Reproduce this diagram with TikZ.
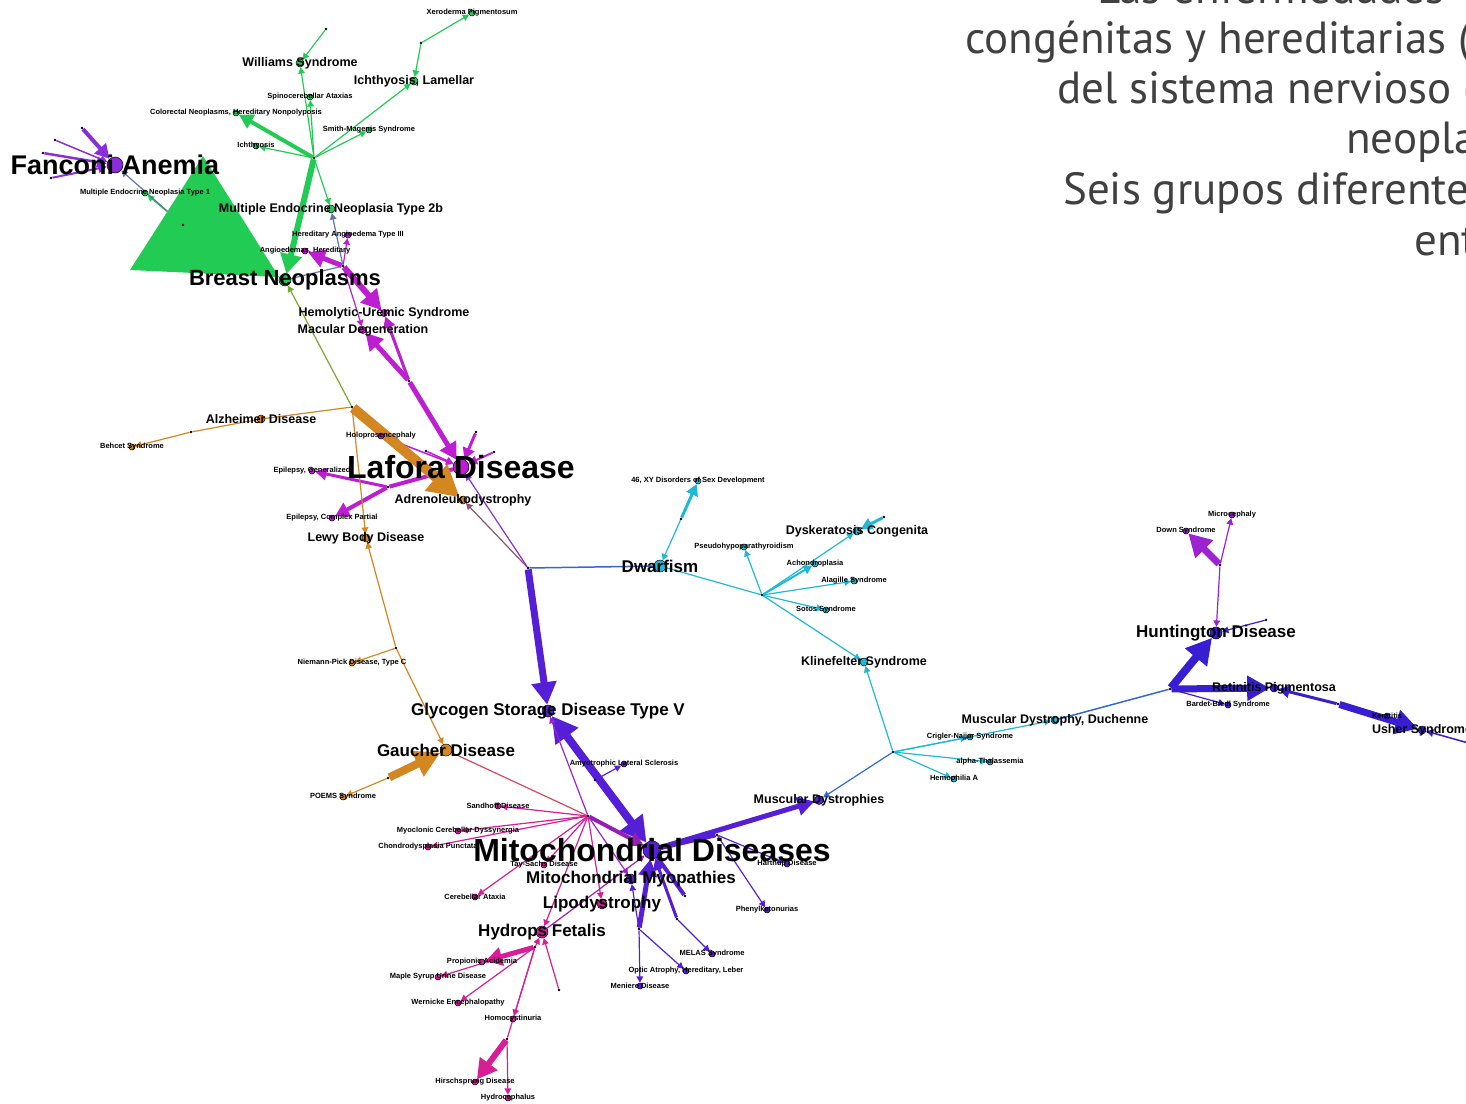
\documentclass[tikz,border=0pt]{standalone}
\usepackage{fontspec}
\setmainfont{Liberation Sans}
\newfontfamily\slidefont{PT Sans}
\usepackage{tikz}
\usetikzlibrary{arrows.meta}
\definecolor{genegreen}{RGB}{34,204,84}
\definecolor{fanconipurple}{RGB}{140,45,220}
\definecolor{laforapink}{RGB}{190,30,210}
\definecolor{alzorange}{RGB}{212,134,32}
\definecolor{dwarfcyan}{RGB}{30,185,215}
\definecolor{mitoviolet}{RGB}{85,30,215}
\definecolor{linkblue}{RGB}{50,105,215}
\definecolor{mitopink}{RGB}{215,30,150}
\definecolor{linkred}{RGB}{220,70,90}
\definecolor{linkslate}{RGB}{95,120,160}
\definecolor{linkolive}{RGB}{120,170,50}
\definecolor{linkbrown}{RGB}{140,85,110}
\definecolor{retinablue}{RGB}{55,30,210}
\definecolor{downpurple}{RGB}{155,35,210}
\definecolor{textgray}{RGB}{64,64,64}
\pgfdeclarelayer{edges}
\pgfsetlayers{edges,main}
\tikzset{
  dis/.style={circle, draw=black, line width=0.5pt, inner sep=0pt, minimum size=6pt, fill=#1},
  hub/.style={circle, fill=black, inner sep=0pt, minimum size=2.6pt},
  link/.style={line width=#1, -{Triangle[length=3pt 2.8, width=3pt 3]}},
  link/.default=1.2pt,
  wire/.style={line width=#1},
  wire/.default=1.2pt,
  linkboth/.style={line width=#1, {Triangle[length=3pt 2.8, width=3pt 3]}-{Triangle[length=3pt 2.8, width=3pt 3]}},
  hugetext/.style={font=\fontsize{32}{32}\selectfont\bfseries, inner sep=0pt},
  fancytext/.style={font=\fontsize{27}{27}\selectfont\bfseries, inner sep=0pt},
  bigtext/.style={font=\fontsize{22}{22}\selectfont\bfseries, inner sep=0pt},
  midtext/.style={font=\fontsize{17}{17}\selectfont\bfseries, inner sep=0pt},
  smalltext/.style={font=\fontsize{12.5}{12.5}\selectfont\bfseries, inner sep=0pt},
  tinytext/.style={font=\fontsize{7.5}{7.5}\selectfont\bfseries, inner sep=0pt},
  slidetext/.style={font=\slidefont\fontsize{45}{50}\selectfont, text=textgray, anchor=base west, inner sep=0pt}
}

\begin{document}
\begin{tikzpicture}[x=1pt, y=-1pt]
    \useasboundingbox (0,0) rectangle (1466,1103);
    \clip (0,0) rectangle (1466,1103);

    % slide text
    \node[slidetext] (line1) at (1097,3) {Las enfermedades};
    \node[slidetext] (line2) at (965,53) {congénitas y hereditarias (};
    \node[slidetext] (line3) at (1057,103) {del sistema nervioso (};
    \node[slidetext] (line4) at (1346,153) {neopla};
    \node[slidetext] (line5) at (1063,204) {Seis grupos diferente};
    \node[slidetext] (line6) at (1414,255) {ent};

    % green cluster
    \node[hub] (gb1) at (421,43) {};
    \node[hub] (gb2) at (326,29) {};
    \node[hub] (g0) at (314,158) {};
    \node[hub] (tri) at (183,225) {};
    \node[dis=genegreen, label={[tinytext]center:Xeroderma Pigmentosum}] (xero) at (472,13) {};
    \node[dis=genegreen, minimum size=8pt, label={[smalltext]center:{Ichthyosis, Lamellar}}] (lamellar) at (414,81) {};
    \node[dis=genegreen, minimum size=8pt, label={[smalltext]center:Williams Syndrome}] (williams) at (300,63) {};
    \node[dis=genegreen, label={[tinytext]center:Spinocerebellar Ataxias}] (spino) at (310,97) {};
    \node[dis=genegreen, label={[tinytext]center:{Colorectal Neoplasms, Hereditary Nonpolyposis}}] (colorectal) at (236,113) {};
    \node[dis=genegreen, label={[tinytext]center:Ichthyosis}] (ichthyosis) at (256,146) {};
    \node[dis=genegreen, label={[tinytext]center:Smith-Magenis Syndrome}] (smith) at (369,130) {};
    \node[dis=genegreen, minimum size=8pt, label={[smalltext]center:Multiple Endocrine Neoplasia Type 2b}] (men2b) at (331,209) {};
    \node[dis=genegreen, label={[tinytext]center:Multiple Endocrine Neoplasia Type 1}] (men1) at (145,193) {};
    \node[dis=genegreen, minimum size=12pt, label={[bigtext]center:Breast Neoplasms}] (breast) at (285,280) {};
    \node[dis=fanconipurple, minimum size=16pt, label={[fancytext]center:Fanconi Anemia}] (fanconi) at (115,165) {};
    \node[hub] (f1) at (82,128) {};
    \node[hub] (f2) at (55,140) {};
    \node[hub] (f3) at (43,153) {};
    \node[hub] (f4) at (51,178) {};

    % Lafora cluster
    \node[hub] (p1) at (343,266) {};
    \node[hub] (p2) at (409,381) {};
    \node[hub] (p3) at (388,487) {};
    \node[hub] (p4) at (426,451) {};
    \node[hub] (p5) at (476,432) {};
    \node[hub] (p6) at (494,452) {};
    \node[dis=laforapink, label={[tinytext]center:{Angioedemas, Hereditary}}] (angio) at (305,251) {};
    \node[dis=laforapink, label={[tinytext]center:Hereditary Angioedema Type III}] (hae3) at (348,235) {};
    \node[dis=laforapink, minimum size=7pt, label={[smalltext]center:Hemolytic-Uremic Syndrome}] (hus) at (384,313) {};
    \node[dis=laforapink, minimum size=7pt, label={[smalltext]center:Macular Degeneration}] (macular) at (363,330) {};
    \node[dis=laforapink, minimum size=16pt, label={[hugetext]center:Lafora Disease}] (lafora) at (461,467) {};
    \node[dis=laforapink, label={[tinytext]center:Holoprosencephaly}] (holo) at (381,436) {};
    \node[dis=laforapink, label={[tinytext]center:{Epilepsy, Generalized}}] (epigen) at (312,471) {};
    \node[dis=laforapink, label={[tinytext]center:{Epilepsy, Complex Partial}}] (epicp) at (332,518) {};

    % orange cluster
    \node[hub] (o1) at (352,407) {};
    \node[hub] (ob) at (191,432) {};
    \node[hub] (o2) at (396,648) {};
    \node[hub] (o3) at (388,778) {};
    \node[dis=alzorange, minimum size=8pt, label={[smalltext]center:Alzheimer Disease}] (alz) at (261,419) {};
    \node[dis=alzorange, label={[tinytext]center:Behcet Syndrome}] (behcet) at (132,447) {};
    \node[dis=alzorange, minimum size=8pt, label={[smalltext]center:Adrenoleukodystrophy}] (ald) at (463,500) {};
    \node[dis=alzorange, minimum size=8pt, label={[smalltext]center:Lewy Body Disease}] (lewy) at (366,538) {};
    \node[dis=alzorange, label={[tinytext]center:{Niemann-Pick Disease, Type C}}] (niemann) at (352,663) {};
    \node[dis=alzorange, minimum size=12pt, label={[midtext]center:Gaucher Disease}] (gaucher) at (446,750) {};
    \node[dis=alzorange, label={[tinytext]center:POEMS Syndrome}] (poems) at (343,797) {};

    % cyan cluster
    \node[hub] (a1) at (528,568) {};
    \node[hub] (c1) at (681,519) {};
    \node[hub] (c2) at (762,595) {};
    \node[hub] (c3) at (893,752) {};
    \node[hub] (c4) at (884,517) {};
    \node[dis=dwarfcyan, minimum size=12pt, label={[midtext]center:Dwarfism}] (dwarf) at (660,566) {};
    \node[dis=dwarfcyan, label={[tinytext]center:{46, XY Disorders of Sex Development}}] (xy) at (698,481) {};
    \node[dis=dwarfcyan, label={[tinytext]center:Pseudohypoparathyroidism}] (pseudo) at (744,547) {};
    \node[dis=dwarfcyan, minimum size=8pt, label={[smalltext]center:Dyskeratosis Congenita}] (dysker) at (857,531) {};
    \node[dis=dwarfcyan, label={[tinytext]center:Achondroplasia}] (achon) at (815,564) {};
    \node[dis=dwarfcyan, label={[tinytext]center:Alagille Syndrome}] (alagille) at (854,581) {};
    \node[dis=dwarfcyan, label={[tinytext]center:Sotos Syndrome}] (sotos) at (826,610) {};
    \node[dis=dwarfcyan, minimum size=8pt, label={[smalltext]center:Klinefelter Syndrome}] (kline) at (864,662) {};
    \node[dis=dwarfcyan, label={[tinytext]center:Crigler-Najjar Syndrome}] (crigler) at (970,737) {};
    \node[dis=dwarfcyan, minimum size=8pt, label={[smalltext]center:{Muscular Dystrophy, Duchenne}}] (duchenne) at (1055,720) {};
    \node[dis=dwarfcyan, label={[tinytext]center:alpha-Thalassemia}] (alpha) at (990,762) {};
    \node[dis=dwarfcyan, label={[tinytext]center:Hemophilia A}] (hemo) at (954,779) {};

    % right cluster
    \node[hub] (r1) at (1170,689) {};
    \node[hub] (r2) at (1220,565) {};
    \node[hub] (r3) at (1338,704) {};
    \node[hub] (r4) at (1266,620) {};
    \coordinate (r5) at (1472,744);
    \node[dis=retinablue, minimum size=12pt, label={[midtext]center:Huntington Disease}] (hunt) at (1216,633) {};
    \node[dis=downpurple, label={[tinytext]center:Down Syndrome}] (down) at (1186,531) {};
    \node[dis=downpurple, label={[tinytext]center:Microcephaly}] (micro) at (1232,515) {};
    \node[dis=retinablue, minimum size=8pt, label={[smalltext]center:Retinitis Pigmentosa}] (retina) at (1274,688) {};
    \node[dis=retinablue, label={[tinytext]center:Bardet-Biedl Syndrome}] (bardet) at (1228,705) {};
    \node[dis=retinablue, label={[tinytext]center:Keratitis}] (keratitis) at (1387,716) {};
    \node[dis=retinablue, minimum size=8pt, label={[smalltext]center:Usher Syndrome}] (usher) at (1422,730) {};

    % mitochondrial cluster
    \node[hub] (m1) at (595,780) {};
    \node[hub] (mh) at (588,816) {};
    \node[hub] (m2) at (717,835) {};
    \node[hub] (m3) at (685,896) {};
    \node[hub] (m4) at (677,919) {};
    \node[hub] (m5) at (639,929) {};
    \node[dis=mitoviolet, minimum size=12pt, label={[midtext]center:Glycogen Storage Disease Type V}] (glycogen) at (548,711) {};
    \node[dis=mitoviolet, minimum size=9pt, label={[smalltext]center:Muscular Dystrophies}] (musdys) at (819,800) {};
    \node[dis=mitoviolet, minimum size=18pt, label={[hugetext]center:Mitochondrial Diseases}] (mito) at (652,850) {};
    \node[dis=mitoviolet, label={[tinytext]center:Amyotrophic Lateral Sclerosis}] (als) at (624,764) {};
    \node[dis=mitopink, label={[tinytext]center:Sandhoff Disease}] (sandhoff) at (498,806) {};
    \node[dis=mitopink, label={[tinytext]center:Myoclonic Cerebellar Dyssynergia}] (myoclonic) at (458,831) {};
    \node[dis=mitopink, label={[tinytext]center:Chondrodysplasia Punctata}] (chondro) at (428,847) {};
    \node[dis=mitopink, label={[tinytext]center:Tay-Sachs Disease}] (taysachs) at (544,865) {};
    \node[dis=mitopink, label={[tinytext]center:Cerebellar Ataxia}] (cereb) at (475,897) {};
    \node[dis=mitopink, minimum size=12pt, label={[midtext]center:Hydrops Fetalis}] (hydrops) at (542,932) {};
    \node[dis=mitopink, minimum size=10pt, label={[midtext]center:Lipodystrophy}] (lipo) at (602,904) {};
    \node[dis=mitoviolet, minimum size=10pt, label={[midtext]center:Mitochondrial Myopathies}] (myopath) at (631,879) {};
    \node[dis=mitoviolet, label={[tinytext]center:Hartnup Disease}] (hartnup) at (787,864) {};
    \node[dis=mitoviolet, label={[tinytext]center:Phenylketonurias}] (phenyl) at (767,910) {};
    \node[dis=mitoviolet, label={[tinytext]center:MELAS Syndrome}] (melas) at (712,954) {};
    \node[dis=mitoviolet, label={[tinytext]center:{Optic Atrophy, Hereditary, Leber}}] (optic) at (686,971) {};
    \node[dis=mitoviolet, label={[tinytext]center:Meniere Disease}] (meniere) at (640,986) {};

    % bottom cluster
    \node[hub] (h1) at (535,947) {};
    \node[hub] (h2) at (507,1039) {};
    \node[hub] (h3) at (559,990) {};
    \node[dis=mitopink, label={[tinytext]center:Propionic Acidemia}] (propionic) at (482,962) {};
    \node[dis=mitopink, label={[tinytext]center:Maple Syrup Urine Disease}] (maple) at (438,977) {};
    \node[dis=mitopink, label={[tinytext]center:Wernicke Encephalopathy}] (wernicke) at (458,1003) {};
    \node[dis=mitopink, label={[tinytext]center:Homocystinuria}] (homocys) at (513,1019) {};
    \node[dis=mitopink, label={[tinytext]center:Hirschsprung Disease}] (hirsch) at (475,1082) {};
    \node[dis=mitopink, label={[tinytext]center:Hydrocephalus}] (hydroceph) at (508,1098) {};

    \begin{pgfonlayer}{edges}
    % green edges
    \draw[link, genegreen] (gb1) -- (xero);
    \draw[link, genegreen] (gb1) -- (lamellar);
    \draw[link, genegreen] (gb2) -- (williams);
    \draw[link, genegreen] (g0) -- (williams);
    \draw[link, genegreen] (g0) -- (spino);
    \draw[link=4pt, genegreen] (g0) -- (colorectal);
    \draw[link, genegreen] (g0) -- (ichthyosis);
    \draw[link, genegreen] (g0) -- (smith);
    \draw[link, genegreen] (g0) -- (lamellar);
    \draw[link, genegreen] (g0) -- (men2b);
    \draw[link=6pt, genegreen] (g0) -- (breast);
    \draw[link, genegreen] (tri) -- (men1);
    \draw[link, linkslate] (tri) -- (fanconi);
    \fill[genegreen] (130,270) -- (203,156) -- (279,277) -- cycle;
    \draw[link=4pt, fanconipurple] (f1) -- (fanconi);
    \draw[link=1.5pt, fanconipurple] (f2) -- (fanconi);
    \draw[link=2.5pt, fanconipurple] (f3) -- (fanconi);
    \draw[link=2pt, fanconipurple] (f4) -- (fanconi);

    % Lafora edges
    \draw[wire, linkslate] (breast) -- (p1);
    \draw[link, linkslate] (p1) -- (men2b);
    \draw[link=5pt, laforapink] (p1) -- (angio);
    \draw[link, laforapink] (p1) -- (hae3);
    \draw[link=6pt, laforapink] (p1) -- (hus);
    \draw[link, laforapink] (p1) -- (macular);
    \draw[link=3pt, laforapink] (p2) -- (hus);
    \draw[link=5pt, laforapink] (p2) -- (macular);
    \draw[link=5pt, laforapink] (p2) -- (lafora);
    \draw[link=1.5pt, laforapink] (holo) -- (lafora);
    \draw[link=1.5pt, laforapink] (p4) -- (lafora);
    \draw[link=3pt, laforapink] (p5) -- (lafora);
    \draw[link=2pt, laforapink] (p6) -- (lafora);
    \draw[wire=4pt, laforapink] (lafora) -- (p3);
    \draw[link=3pt, laforapink] (p3) -- (epigen);
    \draw[link=4pt, laforapink] (p3) -- (epicp);

    % orange edges
    \draw[wire, alzorange] (o1) -- (alz);
    \draw[wire, alzorange] (alz) -- (ob);
    \draw[link, alzorange] (ob) -- (behcet);
    \draw[link=10pt, alzorange] (o1) -- (ald);
    \draw[link, alzorange] (o1) -- (lewy);
    \draw[link, linkolive] (o1) -- (breast);
    \draw[link, alzorange] (o2) -- (lewy);
    \draw[link, alzorange] (o2) -- (niemann);
    \draw[link, alzorange] (o2) -- (gaucher);
    \draw[link=8pt, alzorange] (o3) -- (gaucher);
    \draw[link, alzorange] (o3) -- (poems);

    % links around Dwarfism
    \draw[link, linkbrown] (a1) -- (ald);
    \draw[link, fanconipurple] (a1) -- (lafora);
    \draw[link=7pt, mitoviolet] (a1) -- (glycogen);
    \draw[wire=1.5pt, linkblue] (a1) -- (dwarf);
    \draw[link=3pt, dwarfcyan] (c1) -- (xy);
    \draw[link, dwarfcyan] (c1) -- (dwarf);
    \draw[wire, dwarfcyan] (dwarf) -- (c2);
    \draw[link, dwarfcyan] (c2) -- (pseudo);
    \draw[link, dwarfcyan] (c2) -- (dysker);
    \draw[link=2pt, dwarfcyan] (c2) -- (achon);
    \draw[link, dwarfcyan] (c2) -- (alagille);
    \draw[link, dwarfcyan] (c2) -- (sotos);
    \draw[link, dwarfcyan] (c2) -- (kline);
    \draw[link=3pt, dwarfcyan] (c4) -- (dysker);
    \draw[link, dwarfcyan] (c3) -- (kline);
    \draw[link, dwarfcyan] (c3) -- (crigler);
    \draw[link, dwarfcyan] (c3) -- (duchenne);
    \draw[link, dwarfcyan] (c3) -- (alpha);
    \draw[link, dwarfcyan] (c3) -- (hemo);
    \draw[link, linkblue] (c3) -- (musdys);

    % right edges
    \draw[wire=1.5pt, linkblue] (duchenne) -- (r1);
    \draw[link=8pt, retinablue] (r1) -- (hunt);
    \draw[link=7pt, retinablue] (r1) -- (retina);
    \draw[link, retinablue] (r1) -- (bardet);
    \draw[link, retinablue] (r4) -- (hunt);
    \draw[link, downpurple] (r2) -- (hunt);
    \draw[link=7pt, downpurple] (r2) -- (down);
    \draw[link, downpurple] (r2) -- (micro);
    \draw[link=3pt, retinablue] (r3) -- (retina);
    \draw[link=7pt, retinablue] (r3) -- (usher);
    \draw[link=1.5pt, retinablue] (r5) -- (usher);

    % mitochondrial edges
    \draw[linkboth=8pt, mitoviolet] (glycogen) -- (mito);
    \draw[link, mitoviolet] (m1) -- (als);
    \draw[link, downpurple] (mh) -- (glycogen);
    \draw[wire, linkred] (gaucher) -- (mh);
    \draw[link=4pt, mitopink!50!mitoviolet] (mh) -- (mito);
    \draw[link, mitopink] (mh) -- (sandhoff);
    \draw[link, mitopink] (mh) -- (myoclonic);
    \draw[link, mitopink] (mh) -- (chondro);
    \draw[link, mitopink] (mh) -- (taysachs);
    \draw[link, mitopink] (mh) -- (cereb);
    \draw[link, mitopink] (mh) -- (hydrops);
    \draw[link, mitopink] (mh) -- (lipo);
    \draw[link, downpurple] (mh) -- (myopath);
    \draw[link, mitopink!60!mitoviolet] (hydrops) -- (mito);
    \draw[link=5pt, mitoviolet] (mito) -- (musdys);
    \draw[wire=4pt, mitoviolet] (mito) -- (m2);
    \draw[link, mitoviolet] (m2) -- (hartnup);
    \draw[link, mitoviolet] (m2) -- (phenyl);
    \draw[wire=4pt, mitoviolet] (mito) -- (m3);
    \draw[link=3pt, mitoviolet] (m4) -- (mito);
    \draw[link, mitoviolet] (m4) -- (melas);
    \draw[link=5pt, mitoviolet] (m5) -- (mito);
    \draw[link, mitoviolet] (m5) -- (myopath);
    \draw[link, mitoviolet] (m5) -- (optic);
    \draw[link, mitoviolet] (m5) -- (meniere);

    % bottom edges
    \draw[link, mitopink] (h1) -- (hydrops);
    \draw[link, mitopink] (h3) -- (hydrops);
    \draw[link=5pt, mitopink] (h1) -- (propionic);
    \draw[link, mitopink] (h1) -- (maple);
    \draw[link, mitopink] (h1) -- (wernicke);
    \draw[link, mitopink] (h1) -- (homocys);
    \draw[wire, mitopink] (h1) -- (h2);
    \draw[link=6pt, mitopink] (h2) -- (hirsch);
    \draw[link, mitopink] (h2) -- (hydroceph);
    \end{pgfonlayer}
\end{tikzpicture}
\end{document}
